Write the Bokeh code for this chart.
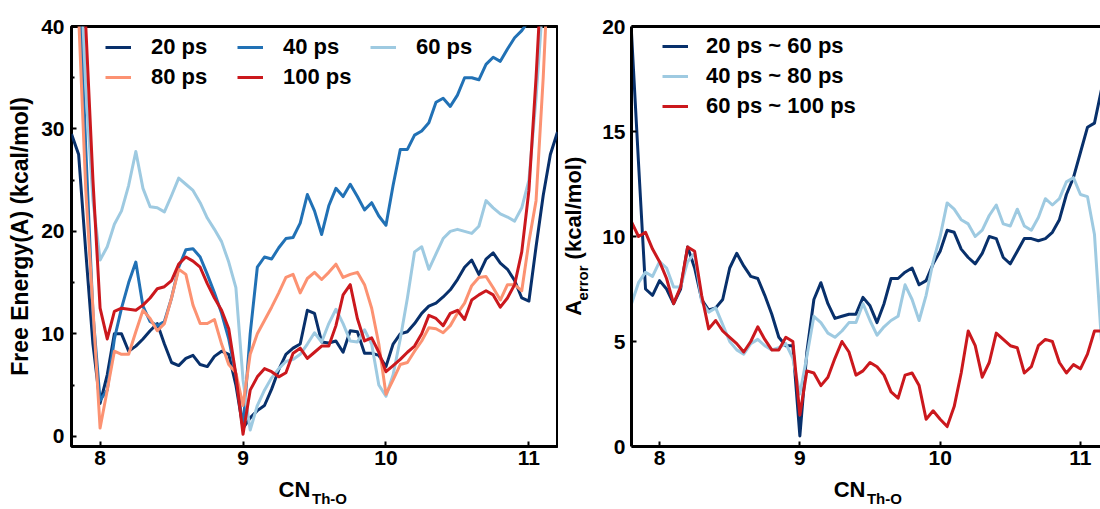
import math
from bokeh.plotting import figure
from bokeh.models import (Range1d, FixedTicker, Legend, LegendItem, LinearAxis)
from bokeh.layouts import row
from bokeh.embed import file_html
from bokeh.resources import INLINE

# ---------------- data ----------------
cn = [round(7.80 + 0.05 * i, 2) for i in range(69)]   # CN_Th-O, 7.80 ... 11.20

# Free energy A (kcal/mol), left panel
fe_20ps = [29.5, 27.5, 18.0, 9.0, 3.2, 6.0, 10.0, 10.0, 8.3, 8.8,
           9.5, 10.3, 11.0, 9.0, 7.2, 6.9, 7.6, 7.9, 7.0, 6.8,
           7.8, 8.3, 8.0, 5.0, 0.8, 1.8, 2.5, 3.0, 4.6, 6.5,
           8.0, 8.6, 9.0, 12.3, 12.0, 9.2, 9.1, 9.3, 8.2, 10.3,
           10.2, 8.1, 8.1, 7.9, 6.8, 9.0, 10.0, 10.2, 11.0, 12.0,
           12.7, 13.0, 13.6, 14.3, 15.3, 16.5, 17.2, 15.8, 17.3, 17.9,
           16.9, 16.3, 15.2, 13.5, 13.2, 18.5, 23.5, 27.5, 29.7]
fe_40ps = [60, 46, 28, 12, 3.5, 4.5, 9.5, 12.5, 15.0, 17.0,
           12.7, 11.2, 10.8, 11.2, 13.5, 16.5, 18.2, 18.3, 17.5, 15.8,
           14.0, 12.0, 9.5, 6.0, 0.8, 10.0, 16.5, 17.5, 17.3, 18.4,
           19.3, 19.4, 20.8, 23.6, 22.0, 19.7, 22.5, 24.2, 23.4, 24.6,
           23.4, 22.1, 22.8, 21.5, 20.6, 24.5, 28.0, 28.0, 29.4, 29.8,
           30.6, 32.6, 33.0, 32.2, 33.3, 35.0, 35.0, 34.8, 36.3, 37.0,
           36.6, 37.8, 38.9, 39.6, 40.6, 55, 70, 85, 100]
fe_60ps = [65, 50, 34, 23, 17.2, 18.5, 20.7, 22.0, 24.5, 27.8,
           24.2, 22.4, 22.3, 21.9, 23.5, 25.2, 24.6, 24.0, 22.8, 21.3,
           20.2, 19.0, 17.0, 14.5, 5.5, 0.6, 3.0, 4.5, 5.7, 6.6,
           7.3, 7.5, 8.0, 9.0, 10.1, 9.2, 11.0, 12.4, 11.0, 9.3,
           9.2, 10.4, 9.0, 5.0, 3.9, 6.0, 9.5, 13.5, 18.0, 18.5,
           16.3, 17.8, 19.3, 20.0, 20.2, 20.0, 19.8, 20.5, 23.0, 22.3,
           21.7, 21.4, 21.0, 22.3, 25.0, 33, 43, 58, 70]
fe_80ps = [55, 41, 24, 12.5, 0.8, 4.5, 8.3, 8.0, 8.0, 10.2,
           12.3, 11.5, 10.3, 11.0, 13.5, 16.3, 15.8, 12.8, 11.0, 11.0,
           11.4, 9.0, 7.0, 6.2, 3.0, 8.0, 10.0, 11.3, 12.6, 14.0,
           15.5, 15.8, 14.0, 15.4, 16.0, 15.3, 16.0, 16.8, 15.5, 15.8,
           16.0, 14.8, 12.5, 9.0, 4.1, 5.5, 7.0, 7.2, 8.3, 9.3,
           10.6, 10.5, 10.1, 10.8, 12.0, 13.0, 14.7, 15.5, 15.6, 14.5,
           13.3, 14.8, 14.8, 14.2, 19, 23, 35, 50, 60]
fe_100ps = [80, 58, 40, 25, 12.5, 9.5, 12.2, 12.5, 12.4, 12.3,
            12.8, 13.5, 14.4, 14.6, 15.2, 16.8, 17.5, 17.1, 16.5, 14.9,
            13.5, 12.3, 10.5, 6.0, 0.2, 4.5, 5.8, 6.6, 6.3, 5.8,
            6.2, 8.1, 8.6, 7.6, 8.2, 8.8, 8.8, 10.8, 13.8, 14.8,
            11.5, 9.3, 9.6, 8.2, 6.3, 6.9, 7.5, 8.2, 8.8, 10.0,
            11.8, 11.5, 10.8, 12.0, 12.3, 11.4, 13.3, 13.8, 14.2, 13.8,
            12.6, 13.5, 14.8, 18.0, 24.0, 35.0, 48, 60, 70]

# A_error (kcal/mol), right panel
err_20_60 = [19.7, 13.5, 7.5, 7.2, 7.9, 7.5, 6.8, 7.5, 9.5, 8.5,
             7.0, 6.5, 6.6, 7.0, 8.5, 9.2, 8.6, 8.1, 8.0, 7.2,
             6.3, 5.2, 4.8, 4.8, 0.5, 4.5, 7.0, 7.8, 6.8, 6.1,
             6.2, 6.3, 6.3, 7.1, 6.7, 5.9, 6.8, 8.0, 8.0, 8.3,
             8.5, 7.7, 7.9, 8.7, 9.3, 10.3, 10.2, 9.4, 9.0, 8.7,
             9.2, 10.0, 9.9, 9.0, 8.7, 9.3, 9.9, 9.9, 9.8, 9.9,
             10.2, 10.8, 12.0, 12.8, 14.0, 15.2, 15.4, 17.0, 20.0]
err_40_80 = [6.8, 7.8, 8.3, 8.1, 8.8, 8.5, 7.6, 7.6, 8.8, 9.2,
             6.9, 6.4, 6.6, 5.8, 5.0, 4.6, 4.4, 4.9, 5.1, 4.8,
             4.6, 4.7, 4.9, 4.2, 2.5, 4.3, 6.2, 5.9, 5.4, 5.2,
             5.5, 5.9, 5.9, 6.8, 6.0, 5.3, 5.7, 6.0, 6.2, 7.7,
             7.0, 6.0, 7.2, 8.8, 10.0, 11.6, 11.3, 10.8, 10.6, 10.0,
             10.3, 11.0, 11.5, 10.6, 10.5, 11.3, 10.5, 10.3, 10.9, 11.8,
             11.5, 11.8, 12.6, 12.8, 12.0, 11.9, 10.1, 5.0, 3.0]
err_60_100 = [10.7, 10.0, 10.2, 9.4, 8.8, 8.0, 6.8, 7.6, 9.5, 9.3,
              7.2, 5.6, 6.0, 5.5, 5.2, 4.9, 4.5, 5.0, 5.7, 5.1,
              4.6, 4.6, 5.2, 5.0, 1.5, 3.6, 3.5, 2.9, 3.3, 4.2,
              5.0, 4.5, 3.4, 3.6, 4.0, 3.8, 3.4, 2.6, 2.3, 3.4,
              3.5, 2.9, 1.3, 1.7, 1.3, 0.95, 1.9, 3.5, 5.5, 4.8,
              3.3, 4.0, 5.4, 5.1, 4.8, 4.7, 3.5, 3.8, 4.8, 5.1,
              5.0, 4.0, 3.5, 3.9, 3.7, 4.4, 5.5, 5.5, 5.0]

left_series = [("20 ps", fe_20ps, "#08306b"), ("40 ps", fe_40ps, "#2171b5"),
               ("60 ps", fe_60ps, "#9ecae1"), ("80 ps", fe_80ps, "#fc9272"),
               ("100 ps", fe_100ps, "#cb181d")]
right_series = [("20 ps ~ 60 ps", err_20_60, "#08306b"),
                ("40 ps ~ 80 ps", err_40_80, "#9ecae1"),
                ("60 ps ~ 100 ps", err_60_100, "#cb181d")]

for _, ys, _c in left_series + right_series:
    if len(ys) != len(cn):
        raise ValueError("length mismatch %d" % len(ys))

FONT = "Liberation Sans"
TICK_SIZE = "21px"
FRAME_H = 421


def make_fig(width, xr, yr, b_left, b_right, frame_w):
    p = figure(width=width, height=509, x_range=Range1d(*xr), y_range=Range1d(*yr),
               output_backend="svg", toolbar_location=None,
               min_border_left=b_left, min_border_right=b_right,
               min_border_top=26, min_border_bottom=62)
    p.grid.visible = False
    p.background_fill_color = "white"
    p.border_fill_color = "white"
    # pixel ranges used only to place the axis-title pieces
    p.extra_x_ranges = {"px": Range1d(0, frame_w)}
    p.extra_y_ranges = {"px": Range1d(0, FRAME_H)}
    return p


def style_axis(ax, standoff):
    ax.major_label_text_font = FONT
    ax.major_label_text_font_style = "bold"
    ax.major_label_text_font_size = TICK_SIZE
    ax.major_label_text_color = "black"
    ax.major_label_standoff = standoff
    ax.major_tick_in = 5
    ax.major_tick_out = 0
    ax.major_tick_line_width = 2
    ax.major_tick_line_color = "black"
    ax.minor_tick_in = 3
    ax.minor_tick_out = 0
    ax.minor_tick_line_width = 2
    ax.minor_tick_line_color = "black"


def title_axis(p, side, labels, size, standoff):
    """An axis without line/ticks whose tick labels form a piece of an axis title."""
    kw = dict(ticker=FixedTicker(ticks=list(labels.keys())),
              major_label_overrides=labels,
              axis_line_color=None, major_tick_line_color=None, minor_tick_line_color=None,
              major_tick_in=0, major_tick_out=0,
              major_label_standoff=standoff,
              major_label_text_font=FONT, major_label_text_font_style="bold",
              major_label_text_font_size=size, major_label_text_color="black")
    if side == "below":
        ax = LinearAxis(x_range_name="px", **kw)
    else:
        ax = LinearAxis(y_range_name="px", major_label_orientation="parallel", **kw)
    p.add_layout(ax, side)
    return ax


def add_legend(p, items, loc, standoff):
    leg = Legend(items=items, location=loc, orientation="vertical",
                 glyph_width=26, glyph_height=26, label_height=26, spacing=4,
                 label_standoff=standoff, padding=0, margin=0,
                 border_line_color=None, background_fill_alpha=0,
                 label_text_font=FONT, label_text_font_style="bold",
                 label_text_font_size="22px", label_text_color="black")
    p.add_layout(leg)


# ---------------- left panel ----------------
left = make_fig(558, (7.8, 11.2), (-1, 40), 71, 1, 486)
left.outline_line_color = "black"
left.outline_line_width = 3
left.outline_line_alpha = 1.0
lr = {}
for name, ys, col in left_series:
    lr[name] = left.line(cn, ys, line_color=col, line_width=3, line_join="round")
left.xaxis.ticker = FixedTicker(ticks=[8, 9, 10, 11])
left.yaxis.ticker = FixedTicker(ticks=[0, 10, 20, 30, 40], minor_ticks=[5, 15, 25, 35])
left.xaxis.axis_line_color = None
left.yaxis.axis_line_color = None
style_axis(left.xaxis[0], 4)
style_axis(left.yaxis[0], 7)
left.xaxis.minor_tick_line_color = None
left.yaxis.axis_label = "Free Energy(A) (kcal/mol)"
left.yaxis.axis_label_standoff = 5
left.yaxis.axis_label_text_font = FONT
left.yaxis.axis_label_text_font_style = "bold"
left.yaxis.axis_label_text_font_size = "23px"
left.yaxis.axis_label_text_color = "black"

title_axis(left, "below", {258: "Th-O"}, "15px", 22)
title_axis(left, "below", {223: "CN"}, "22px", -33)

add_legend(left, [LegendItem(label="20 ps", renderers=[lr["20 ps"]]),
                  LegendItem(label="80 ps", renderers=[lr["80 ps"]])], (34, 356), 20)
add_legend(left, [LegendItem(label="40 ps", renderers=[lr["40 ps"]]),
                  LegendItem(label="100 ps", renderers=[lr["100 ps"]])], (166, 356), 20)
add_legend(left, [LegendItem(label="60 ps", renderers=[lr["60 ps"]])], (299, 386), 20)

# ---------------- right panel ----------------
right = make_fig(542, (7.8, 11.143), (0, 20), 71, 0, 471)
right.outline_line_color = None
rr = {}
for name, ys, col in right_series:
    rr[name] = right.line(cn, ys, line_color=col, line_width=3, line_join="round")
right.xaxis.ticker = FixedTicker(ticks=[8, 9, 10, 11])
right.yaxis.ticker = FixedTicker(ticks=[0, 5, 10, 15, 20])
for ax in (right.xaxis[0], right.yaxis[0]):
    ax.axis_line_width = 3
    ax.axis_line_color = "black"
style_axis(right.xaxis[0], 4)
style_axis(right.yaxis[0], 6)
right.xaxis.minor_tick_line_color = None
right.yaxis.minor_tick_line_color = None
top_axis = LinearAxis(ticker=FixedTicker(ticks=[]), axis_line_width=3, axis_line_color="black",
                      major_tick_line_color=None, minor_tick_line_color=None)
right.add_layout(top_axis, "above")

title_axis(right, "left", {164: "error"}, "15px", 8)
title_axis(right, "left", {139: "A", 239: "(kcal/mol)"}, "22px", -15)
title_axis(right, "below", {254: "Th-O"}, "15px", 22)
title_axis(right, "below", {219: "CN"}, "22px", -33)

add_legend(right, [LegendItem(label=n, renderers=[rr[n]]) for n, _, _ in right_series], (31, 327), 18)

layout = row(left, right)
open("out.html", "w").write(file_html(layout, INLINE))
